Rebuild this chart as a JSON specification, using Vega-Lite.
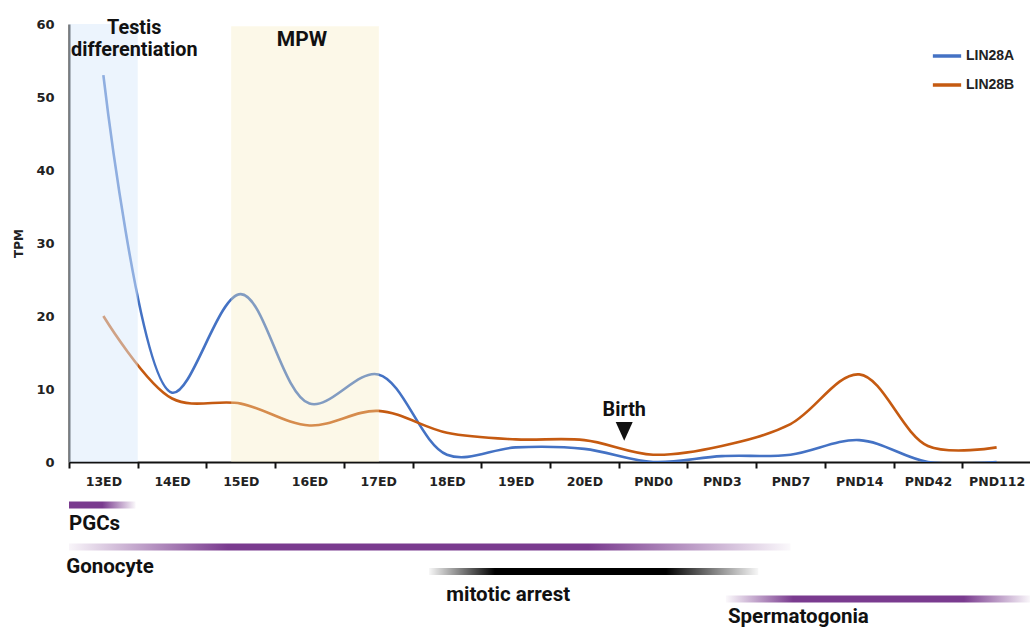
{
  "$schema": "https://vega.github.io/schema/vega-lite/v6.json",
  "padding": {"left": 12, "top": 18, "right": 0, "bottom": 0},
  "bounds": "flush",
  "spacing": 0,
  "config": {"view": {"stroke": null}, "font": "Roboto"},
  "datasets": {
    "expr": [
      {"stage": "13ED", "gene": "LIN28A", "tpm": 53},
      {"stage": "14ED", "gene": "LIN28A", "tpm": 9.5},
      {"stage": "15ED", "gene": "LIN28A", "tpm": 23},
      {"stage": "16ED", "gene": "LIN28A", "tpm": 8},
      {"stage": "17ED", "gene": "LIN28A", "tpm": 12},
      {"stage": "18ED", "gene": "LIN28A", "tpm": 1},
      {"stage": "19ED", "gene": "LIN28A", "tpm": 2},
      {"stage": "20ED", "gene": "LIN28A", "tpm": 1.8},
      {"stage": "PND0", "gene": "LIN28A", "tpm": 0},
      {"stage": "PND3", "gene": "LIN28A", "tpm": 0.8},
      {"stage": "PND7", "gene": "LIN28A", "tpm": 1},
      {"stage": "PND14", "gene": "LIN28A", "tpm": 3},
      {"stage": "PND42", "gene": "LIN28A", "tpm": 0},
      {"stage": "PND112", "gene": "LIN28A", "tpm": 0},
      {"stage": "13ED", "gene": "LIN28B", "tpm": 20},
      {"stage": "14ED", "gene": "LIN28B", "tpm": 8.7},
      {"stage": "15ED", "gene": "LIN28B", "tpm": 8},
      {"stage": "16ED", "gene": "LIN28B", "tpm": 5},
      {"stage": "17ED", "gene": "LIN28B", "tpm": 7},
      {"stage": "18ED", "gene": "LIN28B", "tpm": 4},
      {"stage": "19ED", "gene": "LIN28B", "tpm": 3.1},
      {"stage": "20ED", "gene": "LIN28B", "tpm": 3},
      {"stage": "PND0", "gene": "LIN28B", "tpm": 1},
      {"stage": "PND3", "gene": "LIN28B", "tpm": 2.2},
      {"stage": "PND7", "gene": "LIN28B", "tpm": 5.2},
      {"stage": "PND14", "gene": "LIN28B", "tpm": 12},
      {"stage": "PND42", "gene": "LIN28B", "tpm": 2.2},
      {"stage": "PND112", "gene": "LIN28B", "tpm": 2}
    ],
    "windows": [
      {"name": "Testis\ndifferentiation", "start": 0, "end": 1, "top": 60, "color": "blue", "labelAt": 0.95, "labelY": 58.6, "size": 19.8},
      {"name": "MPW", "start": 2.36, "end": 4.51, "top": 59.7, "color": "yellow", "labelAt": 3.39, "labelY": 57.0, "size": 21}
    ],
    "events": [
      {"name": "Birth", "at": 8.08, "tpm": 4.2, "labelY": 6.3}
    ],
    "tracks": [
      {"track": "PGCs", "start": 0, "end": 0.97, "lane": 4.3, "labelAt": 0, "labelLane": 6.2},
      {"track": "Gonocyte", "start": 0, "end": 10.5, "lane": 8.5, "labelAt": -0.04, "labelLane": 10.5},
      {"track": "mitotic arrest", "start": 5.24, "end": 10.03, "lane": 10.95, "labelAt": 5.49, "labelLane": 13.3},
      {"track": "Spermatogonia", "start": 9.56, "end": 14, "lane": 13.7, "labelAt": 9.59, "labelLane": 15.5}
    ]
  },
  "vconcat": [
    {
      "width": 962,
      "height": 438,
      "resolve": {"scale": {"x": "independent", "y": "shared"}, "axis": {"x": "independent"}},
      "layer": [
        {
          "data": {"name": "expr"},
          "mark": {"type": "line", "interpolate": "catmull-rom", "strokeWidth": 2.6, "clip": true},
          "encoding": {
            "x": {
              "field": "stage", "type": "ordinal", "sort": null,
              "scale": {"type": "point", "padding": 0.5},
              "axis": {
                "title": null, "labelAngle": 0, "tickOffset": -34.357, "labelOffset": 34.357,
                "domainColor": "#111", "domainWidth": 2, "tickColor": "#111", "tickWidth": 2, "tickSize": 6,
                "labelFont": "DejaVu Sans", "labelFontWeight": "bold", "labelFontSize": 12.5, "labelColor": "#222",
                "labelPadding": 7
              }
            },
            "y": {
              "field": "tpm", "type": "quantitative",
              "scale": {"domain": [0, 60], "nice": false, "zero": true},
              "axis": {
                "title": "TPM", "values": [0, 10, 20, 30, 40, 50, 60], "grid": false, "ticks": false,
                "domainColor": "#111", "domainWidth": 2,
                "labelFont": "DejaVu Sans", "labelFontWeight": "bold", "labelFontSize": 13, "labelColor": "#222",
                "labelPadding": 15,
                "titleFont": "DejaVu Sans", "titleFontWeight": "bold", "titleFontSize": 12, "titleColor": "#222", "titlePadding": 10
              }
            },
            "color": {
              "field": "gene", "type": "nominal",
              "scale": {"domain": ["LIN28A", "LIN28B"], "range": ["#4472C4", "#C55A11"]},
              "legend": {
                "title": null, "orient": "none", "legendX": 862, "legendY": 16,
                "symbolType": "stroke", "symbolSize": 800, "symbolStrokeWidth": 3.5,
                "labelFont": "Liberation Sans", "labelFontWeight": "bold", "labelFontSize": 14, "labelColor": "#222",
                "labelOffset": 3, "rowPadding": 6, "padding": 0
              }
            }
          }
        },
        {
          "data": {"name": "windows"},
          "layer": [
            {
              "mark": {"type": "rect", "opacity": 0.5},
              "transform": [{"filter": "datum.color === 'blue'"}],
              "encoding": {
                "x": {"field": "start", "type": "quantitative", "scale": {"domain": [0, 14], "nice": false, "zero": false}, "axis": null},
                "x2": {"field": "end"},
                "y": {"field": "top", "type": "quantitative", "title": "TPM"},
                "y2": {"datum": 0},
                "color": {"value": "#d9e9fb"}
              }
            },
            {
              "mark": {"type": "rect", "opacity": 0.35},
              "transform": [{"filter": "datum.color === 'yellow'"}],
              "encoding": {
                "x": {"field": "start", "type": "quantitative", "axis": null},
                "x2": {"field": "end"},
                "y": {"field": "top", "type": "quantitative", "title": "TPM"},
                "y2": {"datum": 0},
                "color": {"value": "#f6ebbd"}
              }
            },
            {
              "mark": {"type": "text", "font": "Roboto", "fontWeight": "bold", "align": "center", "baseline": "alphabetic", "lineBreak": "\n", "lineHeight": 22, "color": "#111"},
              "encoding": {
                "x": {"field": "labelAt", "type": "quantitative", "axis": null},
                "y": {"field": "labelY", "type": "quantitative", "title": "TPM"},
                "size": {"field": "size", "type": "quantitative", "scale": null},
                "text": {"field": "name"}
              }
            },
            {
              "data": {"name": "events"},
              "mark": {"type": "text", "font": "Roboto", "fontWeight": "bold", "fontSize": 19.8, "align": "center", "baseline": "alphabetic", "color": "#111"},
              "encoding": {
                "x": {"field": "at", "type": "quantitative", "axis": null},
                "y": {"field": "labelY", "type": "quantitative", "title": "TPM"},
                "text": {"field": "name"}
              }
            },
            {
              "data": {"name": "events"},
              "mark": {"type": "point", "shape": "M-1,-1.1L1,-1.1L0,1.1Z", "filled": true, "size": 289, "color": "#111", "opacity": 1},
              "encoding": {
                "x": {"field": "at", "type": "quantitative", "axis": null},
                "y": {"field": "tpm", "type": "quantitative", "title": "TPM"}
              }
            }
          ]
        }
      ]
    },
    {
      "width": 962,
      "height": 165,
      "data": {"name": "tracks"},
      "encoding": {
        "x": {"field": "start", "type": "quantitative", "scale": {"domain": [0, 14], "nice": false, "zero": false, "padding": 0}, "axis": null},
        "y": {"field": "lane", "type": "quantitative", "scale": {"domain": [0, 16.5], "reverse": true, "nice": false, "zero": false, "padding": 0}, "axis": null}
      },
      "layer": [
        {
          "transform": [{"filter": "datum.track === 'PGCs'"}],
          "mark": {"type": "bar", "orient": "horizontal", "height": 7, "color": {"gradient": "linear", "x1": 0, "x2": 1, "y1": 0, "y2": 0, "stops": [{"offset": 0, "color": "#7a3b8f"}, {"offset": 0.5, "color": "#7a3b8f"}, {"offset": 1, "color": "rgba(122,59,143,0.03)"}]}},
          "encoding": {"x2": {"field": "end"}}
        },
        {
          "transform": [{"filter": "datum.track === 'Gonocyte'"}],
          "mark": {"type": "bar", "orient": "horizontal", "height": 7, "color": {"gradient": "linear", "x1": 0, "x2": 1, "y1": 0, "y2": 0, "stops": [{"offset": 0, "color": "rgba(122,59,143,0.05)"}, {"offset": 0.22, "color": "#7a3b8f"}, {"offset": 0.72, "color": "#7a3b8f"}, {"offset": 1, "color": "rgba(122,59,143,0.03)"}]}},
          "encoding": {"x2": {"field": "end"}}
        },
        {
          "transform": [{"filter": "datum.track === 'mitotic arrest'"}],
          "mark": {"type": "bar", "orient": "horizontal", "height": 7, "color": {"gradient": "linear", "x1": 0, "x2": 1, "y1": 0, "y2": 0, "stops": [{"offset": 0, "color": "rgba(0,0,0,0.03)"}, {"offset": 0.2, "color": "#000000"}, {"offset": 0.72, "color": "#000000"}, {"offset": 1, "color": "rgba(0,0,0,0.03)"}]}},
          "encoding": {"x2": {"field": "end"}}
        },
        {
          "transform": [{"filter": "datum.track === 'Spermatogonia'"}],
          "mark": {"type": "bar", "orient": "horizontal", "height": 7, "color": {"gradient": "linear", "x1": 0, "x2": 1, "y1": 0, "y2": 0, "stops": [{"offset": 0, "color": "rgba(122,59,143,0.03)"}, {"offset": 0.22, "color": "#7a3b8f"}, {"offset": 0.78, "color": "#7a3b8f"}, {"offset": 1, "color": "rgba(122,59,143,0.03)"}]}},
          "encoding": {"x2": {"field": "end"}}
        },
        {
          "mark": {"type": "text", "font": "Roboto", "fontWeight": "bold", "fontSize": 20.5, "align": "left", "baseline": "middle", "color": "#111"},
          "encoding": {
            "x": {"field": "labelAt", "type": "quantitative"},
            "y": {"field": "labelLane", "type": "quantitative"},
            "text": {"field": "track"}
          }
        }
      ]
    }
  ]
}
